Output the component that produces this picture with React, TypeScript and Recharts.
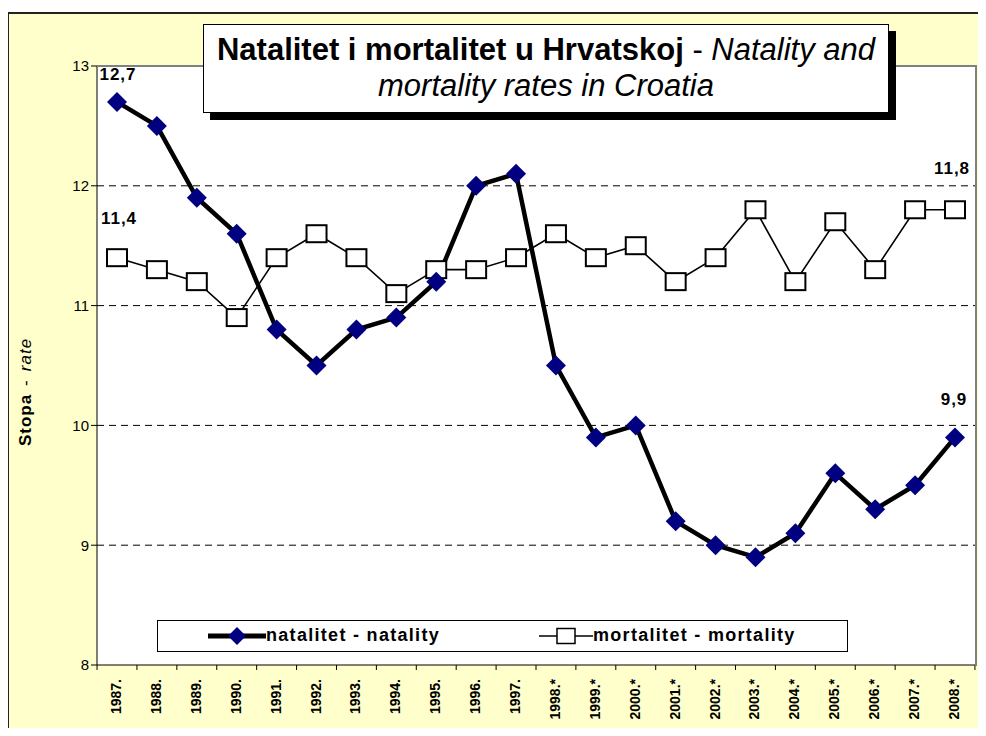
import React from "react";
import {
  LineChart,
  Line,
  XAxis,
  YAxis,
  CartesianGrid,
  LabelList,
} from "recharts";

const years = [
  "1987.", "1988.", "1989.", "1990.", "1991.", "1992.", "1993.", "1994.",
  "1995.", "1996.", "1997.", "1998.*", "1999.*", "2000.*", "2001.*",
  "2002.*", "2003.*", "2004.*", "2005.*", "2006.*", "2007.*", "2008.*",
];
const natality = [
  12.7, 12.5, 11.9, 11.6, 10.8, 10.5, 10.8, 10.9, 11.2, 12.0, 12.1, 10.5,
  9.9, 10.0, 9.2, 9.0, 8.9, 9.1, 9.6, 9.3, 9.5, 9.9,
];
const mortality = [
  11.4, 11.3, 11.2, 10.9, 11.4, 11.6, 11.4, 11.1, 11.3, 11.3, 11.4, 11.6,
  11.4, 11.5, 11.2, 11.4, 11.8, 11.2, 11.7, 11.3, 11.8, 11.8,
];
const yTicks = [8, 9, 10, 11, 12, 13];

const data = years.map((year, i) => ({
  year,
  natality: natality[i],
  mortality: mortality[i],
}));

const FONT = "'Liberation Sans', Arial, sans-serif";
const NAVY = "#000080";
const last = years.length - 1;
// plot 97..975, padded 20 each side
const step = (878 - 40) / last;

const Diamond = (props: any) => {
  const { cx, cy } = props;
  if (cx == null || cy == null) return null;
  const r = 10;
  return (
    <polygon
      points={`${cx},${cy - r} ${cx + r},${cy} ${cx},${cy + r} ${cx - r},${cy}`}
      fill={NAVY}
    />
  );
};

const Square = (props: any) => {
  const { cx, cy } = props;
  if (cx == null || cy == null) return null;
  return (
    <rect x={cx - 10} y={cy - 8.5} width={20} height={17} fill="#fff" stroke="#000" strokeWidth={2} />
  );
};

const XTick = (props: any) => {
  const { x, y, payload, index } = props;
  return (
    <g>
      <line x1={x - step / 2} y1={y - 8} x2={x - step / 2} y2={y - 3} stroke="#000" />
      {index === last && (
        <line x1={x + step / 2} y1={y - 8} x2={x + step / 2} y2={y - 3} stroke="#000" />
      )}
      <text
        x={x}
        y={y + 6}
        transform={`rotate(-90 ${x} ${y + 6})`}
        textAnchor="end"
        dy={4}
        fontSize={14}
        fontWeight="bold"
        fontFamily={FONT}
        fill="#000"
      >
        {payload.value}
      </text>
    </g>
  );
};

const fmt = (v: number) => String(v).replace(".", ",");

const labelText = (x: number, y: number, v: number) => (
  <text x={x} y={y} textAnchor="middle" fontSize={17} fontWeight="bold" letterSpacing={1} fontFamily={FONT} fill="#000">
    {fmt(v)}
  </text>
);

const natLabel = (props: any) => {
  const { x, y, value, index } = props;
  if (index !== 0 && index !== last) return null;
  return index === 0 ? labelText(x + 1, y - 22, value) : labelText(x - 1, y - 32, value);
};

const morLabel = (props: any) => {
  const { x, y, value, index } = props;
  if (index !== 0 && index !== last) return null;
  return index === 0 ? labelText(x + 2, y - 34, value) : labelText(x - 3, y - 36, value);
};

export default function App() {
  return (
    <div style={{ position: "relative", width: 986, height: 736, margin: -8, overflow: "hidden", background: "#fff" }}>
      <div
        style={{
          position: "absolute",
          left: 7,
          top: 12,
          width: 1000,
          height: 760,
          background: "#FFFFCC",
          borderLeft: "2px solid #222",
          borderTop: "2px solid #222",
        }}
      />
      <div style={{ position: "absolute", left: 0, top: 0 }}>
        <LineChart
          width={986}
          height={736}
          data={data}
          margin={{ top: 66, right: 11, left: 37, bottom: 11 }}
        >
          <CartesianGrid
            vertical={false}
            fill="#fff"
            stroke="#000"
            strokeDasharray="7 5"
            horizontalValues={[9, 10, 11, 12]}
          />
          <XAxis
            dataKey="year"
            padding={{ left: 20, right: 20 }}
            interval={0}
            tickLine={false}
            axisLine={{ stroke: "#000" }}
            tick={<XTick />}
            height={60}
          />
          <YAxis
            domain={[8, 13]}
            ticks={yTicks}
            interval={0}
            width={60}
            axisLine={{ stroke: "#000" }}
            tickLine={{ stroke: "#000" }}
            tickSize={6}
            tick={{ fill: "#000", fontSize: 15, fontFamily: FONT }}
          />
          <Line
            dataKey="mortality"
            stroke="#000"
            strokeWidth={1.6}
            dot={<Square />}
            isAnimationActive={false}
          >
            <LabelList dataKey="mortality" content={morLabel} />
          </Line>
          <Line
            dataKey="natality"
            stroke="#000"
            strokeWidth={4.5}
            dot={<Diamond />}
            isAnimationActive={false}
          >
            <LabelList dataKey="natality" content={natLabel} />
          </Line>
          <text
            x={31}
            y={392}
            transform="rotate(-90 31 392)"
            textAnchor="middle"
            fontSize={17}
            letterSpacing={1}
            fontFamily={FONT}
            fill="#000"
          >
            <tspan fontWeight="bold">Stopa</tspan>
            <tspan dx={8}>-</tspan>
            <tspan dx={8} fontStyle="italic">rate</tspan>
          </text>
        </LineChart>
      </div>
      <div
        style={{
          position: "absolute",
          left: 97,
          top: 65,
          width: 880,
          height: 601,
          boxSizing: "border-box",
          borderTop: "2px solid #808080",
          borderRight: "2px solid #808080",
          pointerEvents: "none",
        }}
      />
      <div
        style={{
          position: "absolute",
          left: 203,
          top: 24,
          width: 686,
          height: 89,
          boxSizing: "border-box",
          border: "1px solid #000",
          background: "#fff",
          boxShadow: "7px 7px 0 #000",
          fontFamily: FONT,
          fontSize: 31,
          textAlign: "center",
          lineHeight: "36px",
          paddingTop: 7,
          color: "#000",
          whiteSpace: "nowrap",
        }}
      >
        <div>
          <b>Natalitet i mortalitet u Hrvatskoj</b> - <i>Natality and</i>
        </div>
        <div>
          <i>mortality rates in Croatia</i>
        </div>
      </div>
      <div
        style={{
          position: "absolute",
          left: 157,
          top: 620,
          width: 691,
          height: 32,
          boxSizing: "border-box",
          border: "1px solid #000",
          background: "#fff",
          fontFamily: FONT,
          fontSize: 18,
          letterSpacing: 1.3,
          fontWeight: "bold",
          color: "#000",
        }}
      >
        <svg style={{ position: "absolute", left: 50, top: 0 }} width={58} height={30}>
          <line x1={0} y1={15} x2={58} y2={15} stroke="#000" strokeWidth={5} />
          <polygon points="29,6 38,15 29,24 20,15" fill={NAVY} />
        </svg>
        <span style={{ position: "absolute", left: 108, top: 4 }}>natalitet - natality</span>
        <svg style={{ position: "absolute", left: 381, top: 0 }} width={54} height={30}>
          <line x1={0} y1={15} x2={54} y2={15} stroke="#000" strokeWidth={1.5} />
          <rect x={18} y={7.5} width={18} height={15} fill="#fff" stroke="#000" strokeWidth={1.5} />
        </svg>
        <span style={{ position: "absolute", left: 435, top: 4 }}>mortalitet - mortality</span>
      </div>
    </div>
  );
}
